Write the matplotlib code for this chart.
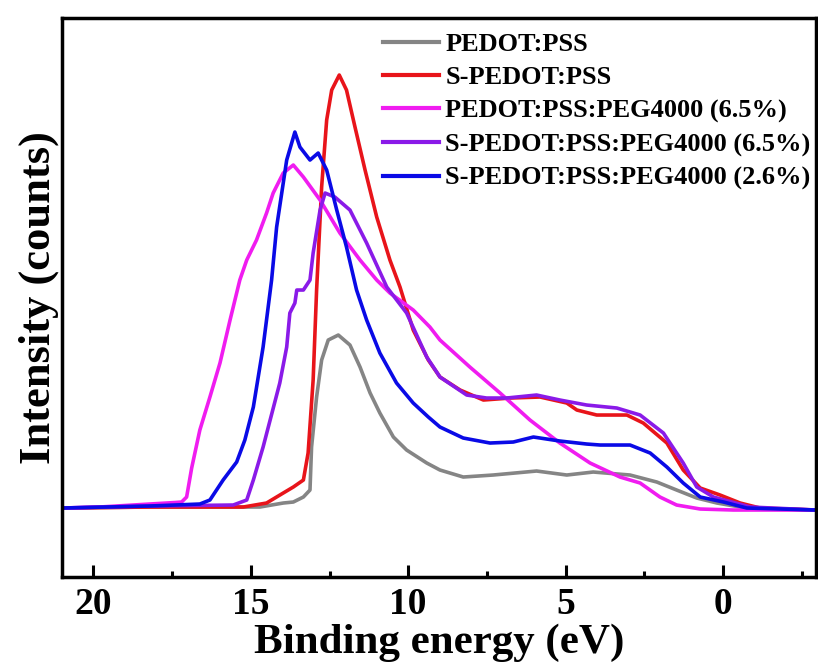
import numpy as np
import matplotlib
matplotlib.use('Agg')
import matplotlib.pyplot as plt

# binding energy (eV) / intensity (arb. counts)
be_pedot = [21.0, 18.21, 14.71, 13.97, 13.65, 13.33, 13.12, 13.07, 12.91, 12.75, 12.54, 12.22, 11.85, 11.53,
            11.21, 10.90, 10.47, 10.05, 9.41, 8.99, 8.25, 7.30, 5.92, 4.96, 4.12, 2.95, 2.10, 1.47, 0.83,
            0.19, -0.55, -1.18, -2.96]
i_pedot = [2, 3, 3, 7, 8, 13, 20, 63, 113, 150, 170, 175, 165, 143,
           117, 97, 73, 60, 47, 40, 33, 35, 39, 35, 38, 35, 28, 20, 12,
           7, 3, 1, 0]

be_spedot = [21.0, 18.21, 15.24, 14.50, 13.97, 13.65, 13.33, 13.18, 13.02, 12.91, 12.75, 12.59, 12.43, 12.19,
             11.96, 11.69, 11.37, 11.00, 10.58, 10.26, 9.84, 9.36, 8.99, 8.35, 7.61, 6.76, 5.81, 4.96, 4.64,
             4.01, 3.05, 2.53, 1.78, 1.26, 0.72, 0.09, -0.55, -1.18, -2.96]
i_spedot = [2, 3, 3, 7, 17, 23, 30, 57, 130, 220, 323, 390, 420, 435,
            420, 383, 340, 293, 250, 223, 180, 150, 133, 120, 110, 112, 113, 107, 100,
            95, 95, 87, 67, 40, 22, 15, 7, 2, 0]

be_peg = [21.0, 19.80, 18.21, 17.41, 17.20, 17.04, 16.88, 16.62, 16.30, 15.98, 15.66, 15.35, 15.13, 14.82,
          14.50, 14.29, 13.97, 13.65, 13.33, 12.80, 12.17, 11.53, 11.00, 10.58, 9.84, 9.31, 8.99, 8.04,
          7.08, 6.13, 5.18, 4.22, 3.27, 2.63, 2.00, 1.47, 0.72, -0.33, -2.96]
i_peg = [2, 3, 6, 7.5, 8, 13, 42, 80, 113, 147, 190, 230, 250, 270,
         297, 317, 337, 345, 333, 310, 277, 250, 230, 217, 200, 183, 170, 143,
         117, 90, 67, 47, 33, 27, 13, 5, 1, 0, 0]

be_speg65 = [21.0, 18.21, 15.56, 15.13, 14.92, 14.61, 14.08, 13.86, 13.76, 13.60, 13.54, 13.33, 13.12, 13.02,
             12.80, 12.64, 12.33, 11.85, 11.32, 10.68, 10.05, 9.41, 8.99, 8.14, 7.51, 6.87, 5.92, 5.18,
             4.33, 3.37, 2.63, 1.89, 1.26, 0.83, 0.30, -0.87, -2.96]
i_speg65 = [2, 4, 5, 10, 30, 63, 127, 163, 197, 207, 220, 220, 230, 257,
            300, 317, 313, 300, 267, 223, 197, 153, 133, 115, 112, 112, 115, 110,
            105, 102, 95, 77, 47, 23, 13, 3, 0]

be_speg26 = [21.0, 18.21, 16.62, 16.30, 15.88, 15.45, 15.19, 14.92, 14.61, 14.34, 14.18, 13.86, 13.60, 13.44,
             13.12, 12.86, 12.59, 12.27, 11.96, 11.64, 11.32, 10.90, 10.37, 9.84, 9.36, 8.99, 8.25, 7.40,
             6.66, 6.02, 5.18, 4.33, 3.90, 2.95, 2.31, 1.78, 1.26, 0.72, -0.02, -0.76, -2.96]
i_speg26 = [2, 4, 6, 10, 30, 48, 70, 103, 163, 230, 283, 350, 378, 363,
            350, 357, 340, 300, 263, 220, 190, 157, 127, 107, 93, 83, 72, 67,
            68, 73, 69, 66, 65, 65, 57, 43, 27, 13, 8, 2, 0]

labels = ['PEDOT:PSS', 'S-PEDOT:PSS', 'PEDOT:PSS:PEG4000 (6.5%)',
          'S-PEDOT:PSS:PEG4000 (6.5%)', 'S-PEDOT:PSS:PEG4000 (2.6%)']
colors = ['#858585', '#e8141a', '#f01cf0', '#8a1ae8', '#0a0ae6']
xs = [be_pedot, be_spedot, be_peg, be_speg65, be_speg26]
ys = [i_pedot, i_spedot, i_peg, i_speg65, i_speg26]

plt.rcParams['font.family'] = 'Liberation Serif'
plt.rcParams['font.weight'] = 'bold'

fig = plt.figure(figsize=(8.18, 6.68), dpi=100)
ax = fig.add_axes([0.0758, 0.1362, 0.9218, 0.8368])

for x, y, c, lab in zip(xs, ys, colors, labels):
    ax.plot(x, y, color=c, lw=2.6, label=lab)

ax.set_xlim(21.0, -2.96)
ax.set_ylim(-67, 492)
ax.set_xticks([20, 15, 10, 5, 0])
ax.set_xticks([17.5, 12.5, 7.5, 2.5, -2.5], minor=True)
ax.set_yticks([])
ax.tick_params(axis='x', which='major', direction='in', length=9, width=2.2, labelsize=27, pad=7)
ax.tick_params(axis='x', which='minor', direction='in', length=4.6, width=2.2)
for s in ax.spines.values():
    s.set_linewidth(2.5)

ax.set_xlabel('Binding energy (eV)', fontsize=31, fontweight='bold', labelpad=1)
ax.set_ylabel('Intensity (counts)', fontsize=32, fontweight='bold', labelpad=2)

leg = ax.legend(loc='upper right', bbox_to_anchor=(1.012, 1.0), frameon=False, fontsize=19,
                handlelength=2.1, handletextpad=0.25, labelspacing=0.37, borderaxespad=0.2,
                borderpad=0.35)
for l in leg.get_lines():
    l.set_linewidth(3)

fig.savefig('out.png', dpi=100)
